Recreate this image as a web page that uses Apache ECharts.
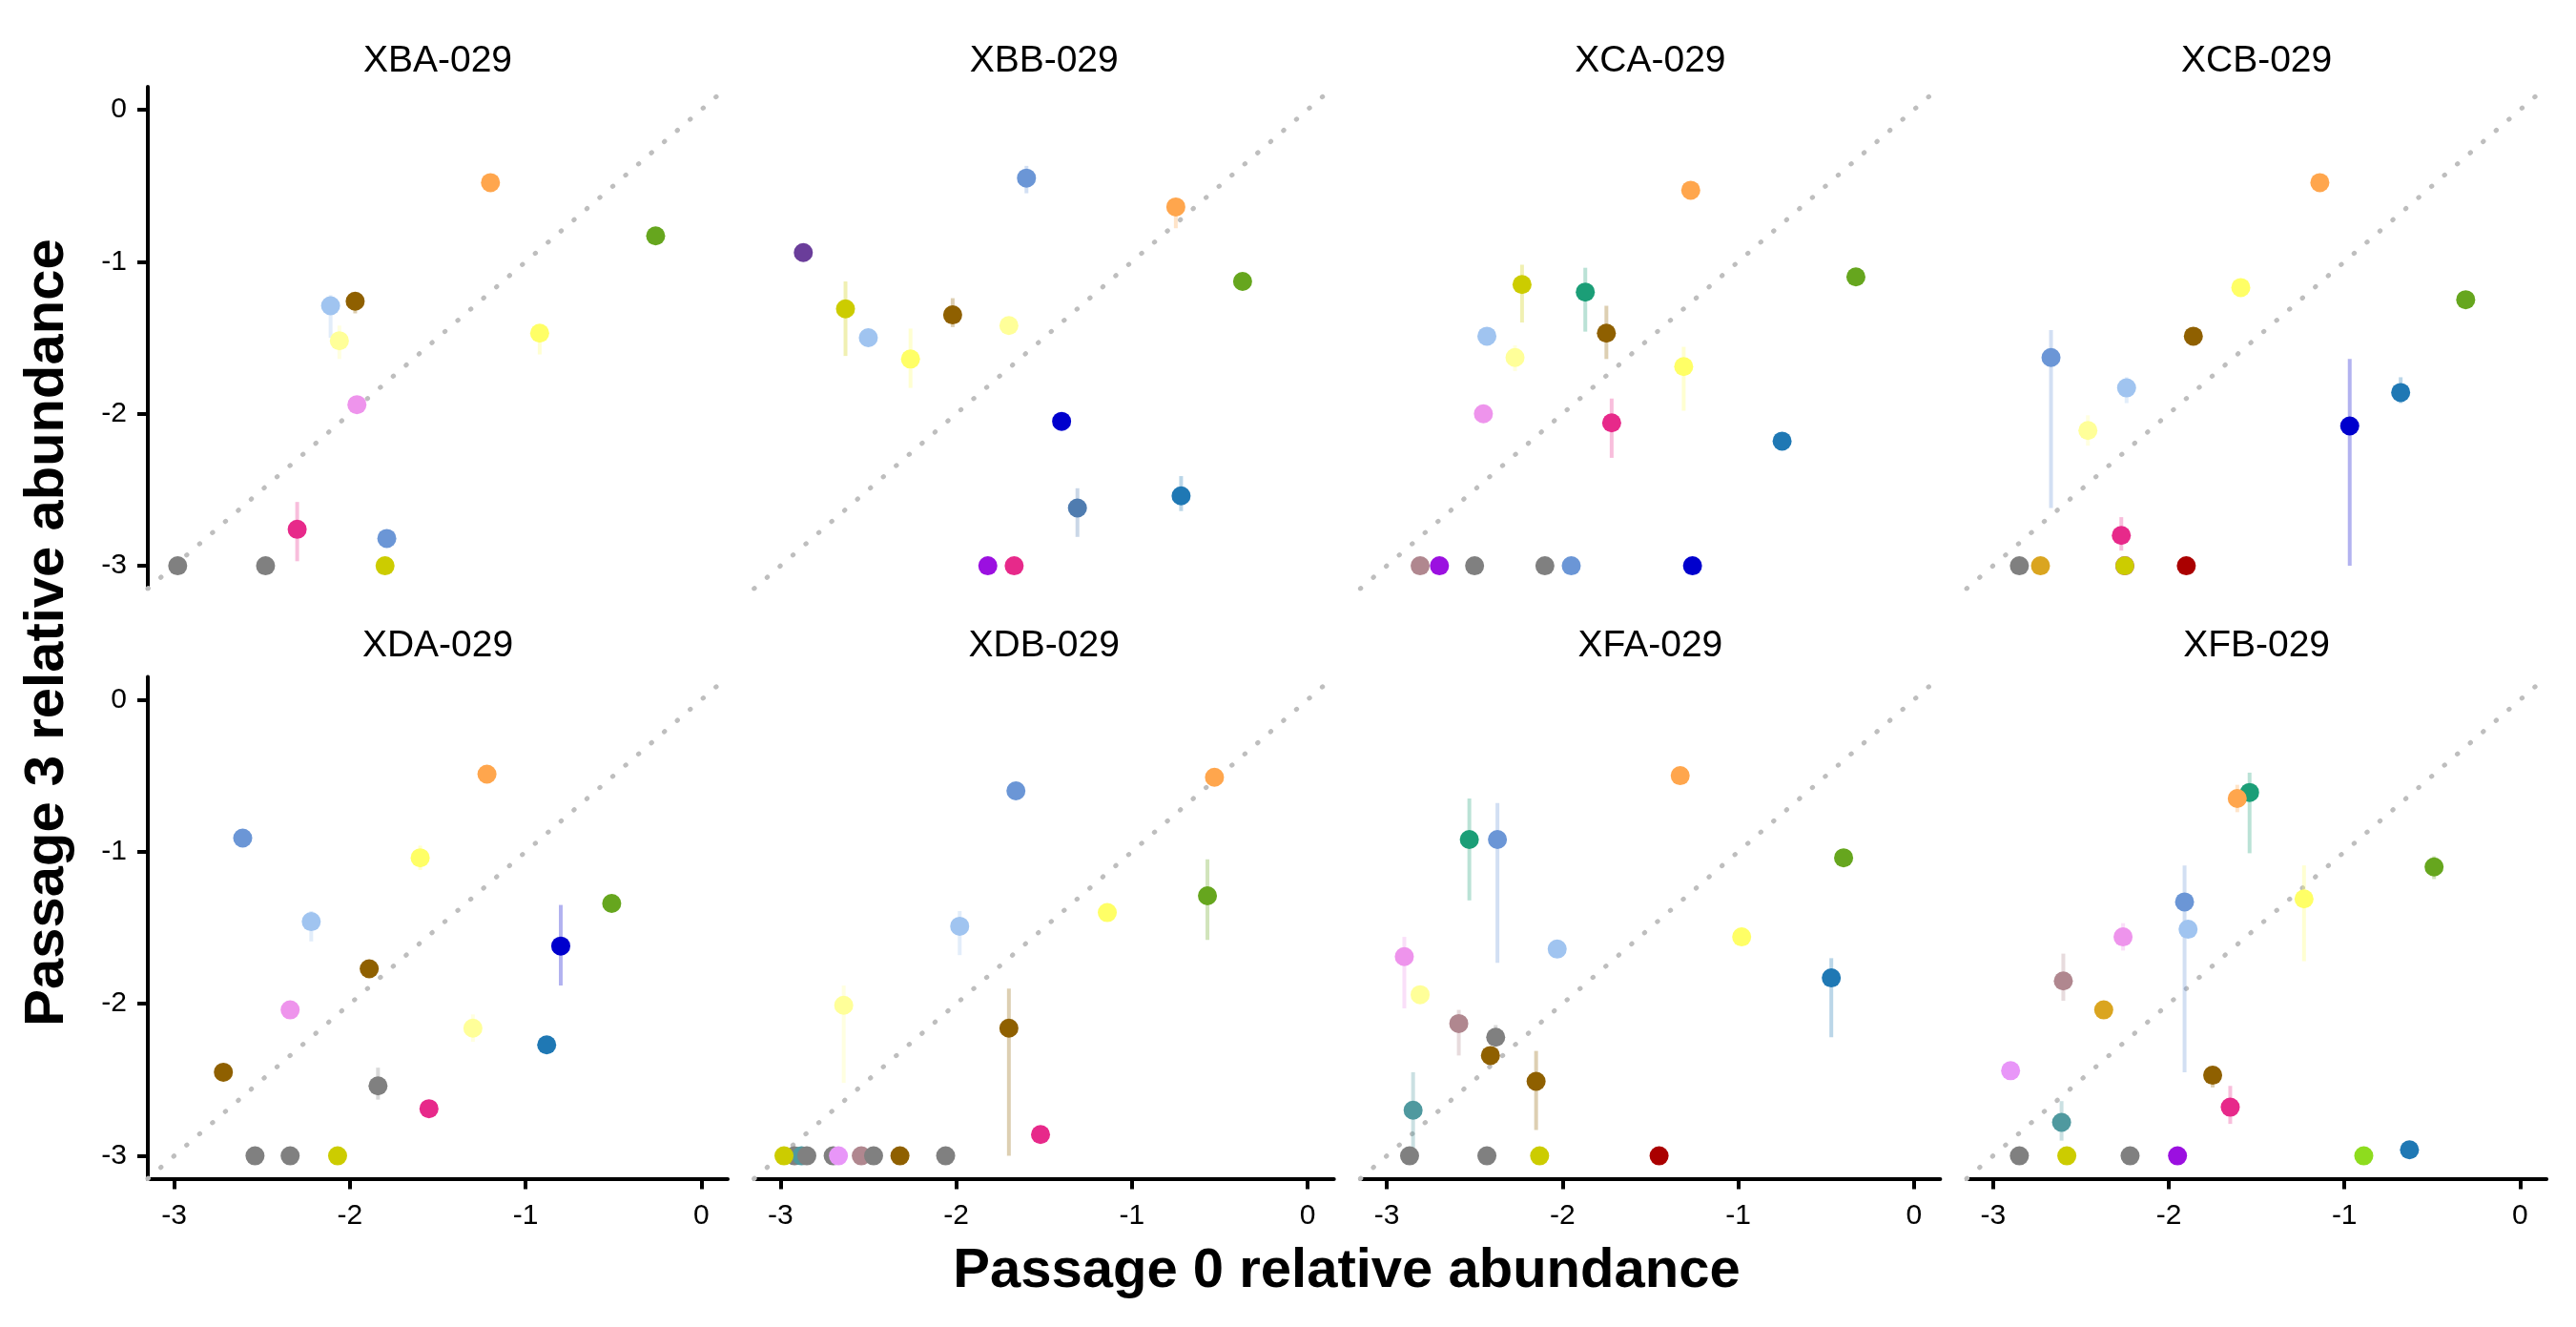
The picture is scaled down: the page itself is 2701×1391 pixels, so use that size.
<!DOCTYPE html>
<html>
<head>
<meta charset="utf-8" />
<script src="https://cdn.jsdelivr.net/npm/echarts@6/dist/echarts.min.js"></script>
<style>
	html, body { margin: 0; padding: 0; background: #fff; }
	#main { width: 2701px; height: 1391px; }
</style>
</head>
<body>
<div id="main"></div>
<script type="text/javascript">
	// facet names, left to right, top to bottom
	var panelNames = ['XBA-029', 'XBB-029', 'XCA-029', 'XCB-029', 'XDA-029', 'XDB-029', 'XFA-029', 'XFB-029'];

	// one row per taxon: [passage 0, passage 3, lower, upper, taxon]
	var xba = [
		[-2.98, -3.00, null, null, 'tW'],
		[-2.48, -3.00, null, null, 'tW'],
		[-2.30, -2.76, -2.97, -2.58, 'tH'],
		[-2.11, -1.29, -1.50, -1.22, 'tC'],
		[-1.97, -1.26, -1.34, -1.24, 'tD'],
		[-2.06, -1.52, -1.64, -1.42, 'tE'],
		[-1.96, -1.94, null, null, 'tG'],
		[-1.79, -2.82, null, null, 'tI'],
		[-1.80, -3.00, null, null, 'tJ'],
		[-1.20, -0.48, null, null, 'tA'],
		[-0.92, -1.47, -1.61, -1.44, 'tF'],
		[-0.26, -0.83, -0.87, -0.80, 'tB']
	];
	var xbb = [
		[-2.87, -0.94, null, null, 'tK'],
		[-2.63, -1.31, -1.62, -1.13, 'tJ'],
		[-2.50, -1.50, null, null, 'tC'],
		[-2.26, -1.64, -1.83, -1.44, 'tF'],
		[-2.02, -1.35, -1.43, -1.24, 'tD'],
		[-1.70, -1.42, -1.46, -1.38, 'tE'],
		[-1.60, -0.45, -0.55, -0.37, 'tI'],
		[-0.75, -0.64, -0.78, -0.62, 'tA'],
		[-0.37, -1.13, null, null, 'tB'],
		[-1.40, -2.05, null, null, 'tL'],
		[-1.31, -2.62, -2.81, -2.49, 'tM'],
		[-0.72, -2.54, -2.64, -2.41, 'tN'],
		[-1.82, -3.00, null, null, 'tO'],
		[-1.67, -3.00, null, null, 'tH']
	];
	var xca = [
		[-2.81, -3.00, null, null, 'tQ'],
		[-2.70, -3.00, null, null, 'tO'],
		[-2.50, -3.00, null, null, 'tW'],
		[-2.10, -3.00, null, null, 'tW'],
		[-1.95, -3.00, null, null, 'tI'],
		[-1.26, -3.00, null, null, 'tL'],
		[-1.27, -0.53, null, null, 'tA'],
		[-0.33, -1.10, null, null, 'tB'],
		[-2.23, -1.15, -1.40, -1.02, 'tJ'],
		[-1.87, -1.20, -1.46, -1.04, 'tP'],
		[-1.75, -1.47, -1.64, -1.29, 'tD'],
		[-2.43, -1.49, null, null, 'tC'],
		[-2.27, -1.63, -1.72, -1.55, 'tE'],
		[-1.31, -1.69, -1.98, -1.56, 'tF'],
		[-2.45, -2.00, null, null, 'tG'],
		[-1.72, -2.06, -2.29, -1.90, 'tH'],
		[-0.75, -2.18, -2.21, -2.15, 'tN']
	];
	var xcb = [
		[-2.85, -3.00, null, null, 'tW'],
		[-2.73, -3.00, null, null, 'tR'],
		[-2.25, -3.00, null, null, 'tO'],
		[-2.25, -3.00, null, null, 'tJ'],
		[-1.90, -3.00, null, null, 'tS'],
		[-2.27, -2.80, -2.90, -2.68, 'tH'],
		[-2.67, -1.63, -2.62, -1.45, 'tI'],
		[-2.24, -1.83, -1.93, -1.76, 'tC'],
		[-2.46, -2.11, -2.21, -2.01, 'tE'],
		[-1.86, -1.49, null, null, 'tD'],
		[-1.59, -1.17, null, null, 'tF'],
		[-1.14, -0.48, null, null, 'tA'],
		[-0.31, -1.25, null, null, 'tB'],
		[-0.97, -2.08, -3.00, -1.64, 'tL'],
		[-0.68, -1.86, -1.93, -1.76, 'tN']
	];
	var xda = [
		[-2.54, -3.00, null, null, 'tW'],
		[-2.34, -3.00, null, null, 'tW'],
		[-2.07, -3.00, null, null, 'tJ'],
		[-2.72, -2.45, null, null, 'tD'],
		[-2.61, -0.91, null, null, 'tI'],
		[-2.22, -1.46, -1.59, -1.39, 'tC'],
		[-2.34, -2.04, null, null, 'tG'],
		[-1.89, -1.77, null, null, 'tD'],
		[-1.60, -1.04, -1.12, -0.96, 'tF'],
		[-1.22, -0.49, null, null, 'tA'],
		[-1.30, -2.16, -2.25, -2.07, 'tE'],
		[-1.84, -2.54, -2.63, -2.42, 'tW'],
		[-1.55, -2.69, null, null, 'tH'],
		[-0.88, -2.27, null, null, 'tN'],
		[-0.80, -1.62, -1.88, -1.35, 'tL'],
		[-0.51, -1.34, null, null, 'tB']
	];
	var xdb = [
		[-2.92, -3.00, null, null, 'tW'],
		[-2.88, -3.00, null, null, 'tT'],
		[-2.85, -3.00, null, null, 'tW'],
		[-2.70, -3.00, null, null, 'tW'],
		[-2.67, -3.00, null, null, 'tU'],
		[-2.54, -3.00, null, null, 'tQ'],
		[-2.47, -3.00, null, null, 'tW'],
		[-2.32, -3.00, null, null, 'tD'],
		[-2.06, -3.00, null, null, 'tW'],
		[-2.98, -3.00, null, null, 'tJ'],
		[-2.64, -2.01, -2.52, -1.88, 'tE'],
		[-1.98, -1.49, -1.68, -1.39, 'tC'],
		[-1.66, -0.60, null, null, 'tI'],
		[-1.70, -2.16, -3.00, -1.90, 'tD'],
		[-1.52, -2.86, null, null, 'tH'],
		[-1.14, -1.40, null, null, 'tF'],
		[-0.57, -1.29, -1.58, -1.05, 'tB'],
		[-0.53, -0.51, null, null, 'tA']
	];
	var xfa = [
		[-2.87, -3.00, null, null, 'tW'],
		[-2.43, -3.00, null, null, 'tW'],
		[-2.13, -3.00, null, null, 'tJ'],
		[-1.45, -3.00, null, null, 'tS'],
		[-2.85, -2.70, -2.96, -2.45, 'tT'],
		[-2.90, -1.69, -2.03, -1.56, 'tG'],
		[-2.81, -1.94, null, null, 'tE'],
		[-2.53, -0.92, -1.32, -0.65, 'tP'],
		[-2.37, -0.92, -1.73, -0.68, 'tI'],
		[-2.59, -2.13, -2.34, -2.04, 'tQ'],
		[-2.38, -2.22, -2.28, -2.14, 'tW'],
		[-2.41, -2.34, null, null, 'tD'],
		[-2.15, -2.51, -2.83, -2.31, 'tD'],
		[-2.03, -1.64, -1.68, -1.59, 'tC'],
		[-1.33, -0.50, null, null, 'tA'],
		[-0.98, -1.56, null, null, 'tF'],
		[-0.47, -1.83, -2.22, -1.70, 'tN'],
		[-0.40, -1.04, -1.08, -1.01, 'tB']
	];
	var xfb = [
		[-2.85, -3.00, null, null, 'tW'],
		[-2.58, -3.00, null, null, 'tJ'],
		[-2.22, -3.00, null, null, 'tW'],
		[-1.95, -3.00, null, null, 'tO'],
		[-0.89, -3.00, null, null, 'tV'],
		[-0.63, -2.96, null, null, 'tN'],
		[-2.90, -2.44, null, null, 'tU'],
		[-2.61, -2.78, -2.90, -2.64, 'tT'],
		[-2.60, -1.85, -1.98, -1.67, 'tQ'],
		[-2.37, -2.04, null, null, 'tR'],
		[-2.26, -1.56, -1.65, -1.47, 'tG'],
		[-1.91, -1.33, -2.45, -1.09, 'tI'],
		[-1.89, -1.51, null, null, 'tC'],
		[-1.75, -2.47, -2.55, -2.44, 'tD'],
		[-1.65, -2.68, -2.79, -2.54, 'tH'],
		[-1.54, -0.61, -1.01, -0.48, 'tP'],
		[-1.61, -0.65, -0.74, -0.56, 'tA'],
		[-1.23, -1.31, -1.72, -1.09, 'tF'],
		[-0.49, -1.10, -1.18, -1.03, 'tB']
	];
	var panels = [xba, xbb, xca, xcb, xda, xdb, xfa, xfb];

	var tickValues = [-3, -2, -1, 0];
	var axisMin = -3.15, axisMax = 0.15;

	// colour of each taxon
	var taxonColour = {
		tA: '#FFA64D', tB: '#66A61E', tC: '#A0C4F0', tD: '#8F6000', tE: '#FFFF99',
		tF: '#FFFF66', tG: '#EE94EC', tH: '#E7298A', tI: '#6B96D6', tJ: '#CCCC00',
		tK: '#6A3D9A', tL: '#0000CD', tM: '#4F7CB0', tN: '#1F78B4', tO: '#9B10E0',
		tP: '#1B9E77', tQ: '#B0878F', tR: '#DAA520', tS: '#AA0000', tT: '#4F999F',
		tU: '#E896F8', tV: '#8EDC1E', tW: '#808080'
	};

	var font = '"Liberation Sans", Arial, Helvetica, sans-serif';
	var rowTops = [91, 709.5];
	var stripY = [64, 677];

	var myChart = echarts.init(document.getElementById('main'), null, { renderer: 'canvas' });

	var grids = [], xAxes = [], yAxes = [], series = [], texts = [];

	panels.forEach(function (rows, i) {
		var r = Math.floor(i / 4), c = i % 4;
		var left = 155 + c * 635.7;
		grids.push({ left: left, top: rowTops[r], width: 608, height: 526 });

		var axisBase = function (visible, margin) {
			return {
				gridIndex: i,
				type: 'value',
				min: axisMin,
				max: axisMax,
				show: visible,
				axisLine: { show: true, onZero: false, lineStyle: { color: '#000', width: 4 } },
				axisTick: { show: true, length: 11, customValues: tickValues, lineStyle: { color: '#000', width: 4 } },
				axisLabel: { customValues: tickValues, color: '#000', fontSize: 30, fontFamily: font, margin: margin },
				splitLine: { show: false }
			};
		};
		xAxes.push(axisBase(r === 1, 24));
		yAxes.push(axisBase(c === 0, 22));

		// y = x reference
		series.push({
			type: 'line',
			xAxisIndex: i, yAxisIndex: i,
			data: [[axisMin, axisMin], [axisMax, axisMax]],
			symbol: 'none',
			silent: true,
			z: 1,
			lineStyle: { color: '#BEBEBE', width: 5, type: [0.5, 17.4], cap: 'round' }
		});

		// error bars
		var bars = rows.filter(function (d) { return d[2] !== null; });
		series.push({
			type: 'custom',
			xAxisIndex: i, yAxisIndex: i,
			z: 2,
			silent: true,
			data: bars.map(function (d) { return [d[0], d[2], d[3]]; }),
			renderItem: function (params, api) {
				var p1 = api.coord([api.value(0), api.value(1)]);
				var p2 = api.coord([api.value(0), api.value(2)]);
				return {
					type: 'line',
					shape: { x1: p1[0], y1: p1[1], x2: p2[0], y2: p2[1] },
					style: { stroke: taxonColour[bars[params.dataIndex][4]], lineWidth: 4, opacity: 0.3 }
				};
			}
		});

		// points
		series.push({
			type: 'scatter',
			xAxisIndex: i, yAxisIndex: i,
			z: 3,
			symbolSize: 20,
			data: rows.map(function (d) {
				return { value: [d[0], d[1]], itemStyle: { color: taxonColour[d[4]], opacity: 1 } };
			})
		});

		texts.push({
			type: 'text',
			x: left + 304,
			y: stripY[r],
			style: { text: panelNames[i], font: '39px ' + font, fill: '#000', textAlign: 'center', textVerticalAlign: 'middle' }
		});
	});

	texts.push({
		type: 'text', x: 1412, y: 1333,
		style: { text: 'Passage 0 relative abundance', font: 'bold 58px ' + font, fill: '#000', textAlign: 'center', textVerticalAlign: 'middle' }
	});
	texts.push({
		type: 'text', x: 50, y: 663, rotation: Math.PI / 2,
		style: { text: 'Passage 3 relative abundance', font: 'bold 58px ' + font, fill: '#000', textAlign: 'center', textVerticalAlign: 'middle' }
	});

	var option = {
		animation: false,
		backgroundColor: '#fff',
		grid: grids,
		xAxis: xAxes,
		yAxis: yAxes,
		series: series,
		graphic: texts
	};

	myChart.setOption(option);
</script>
</body>
</html>
